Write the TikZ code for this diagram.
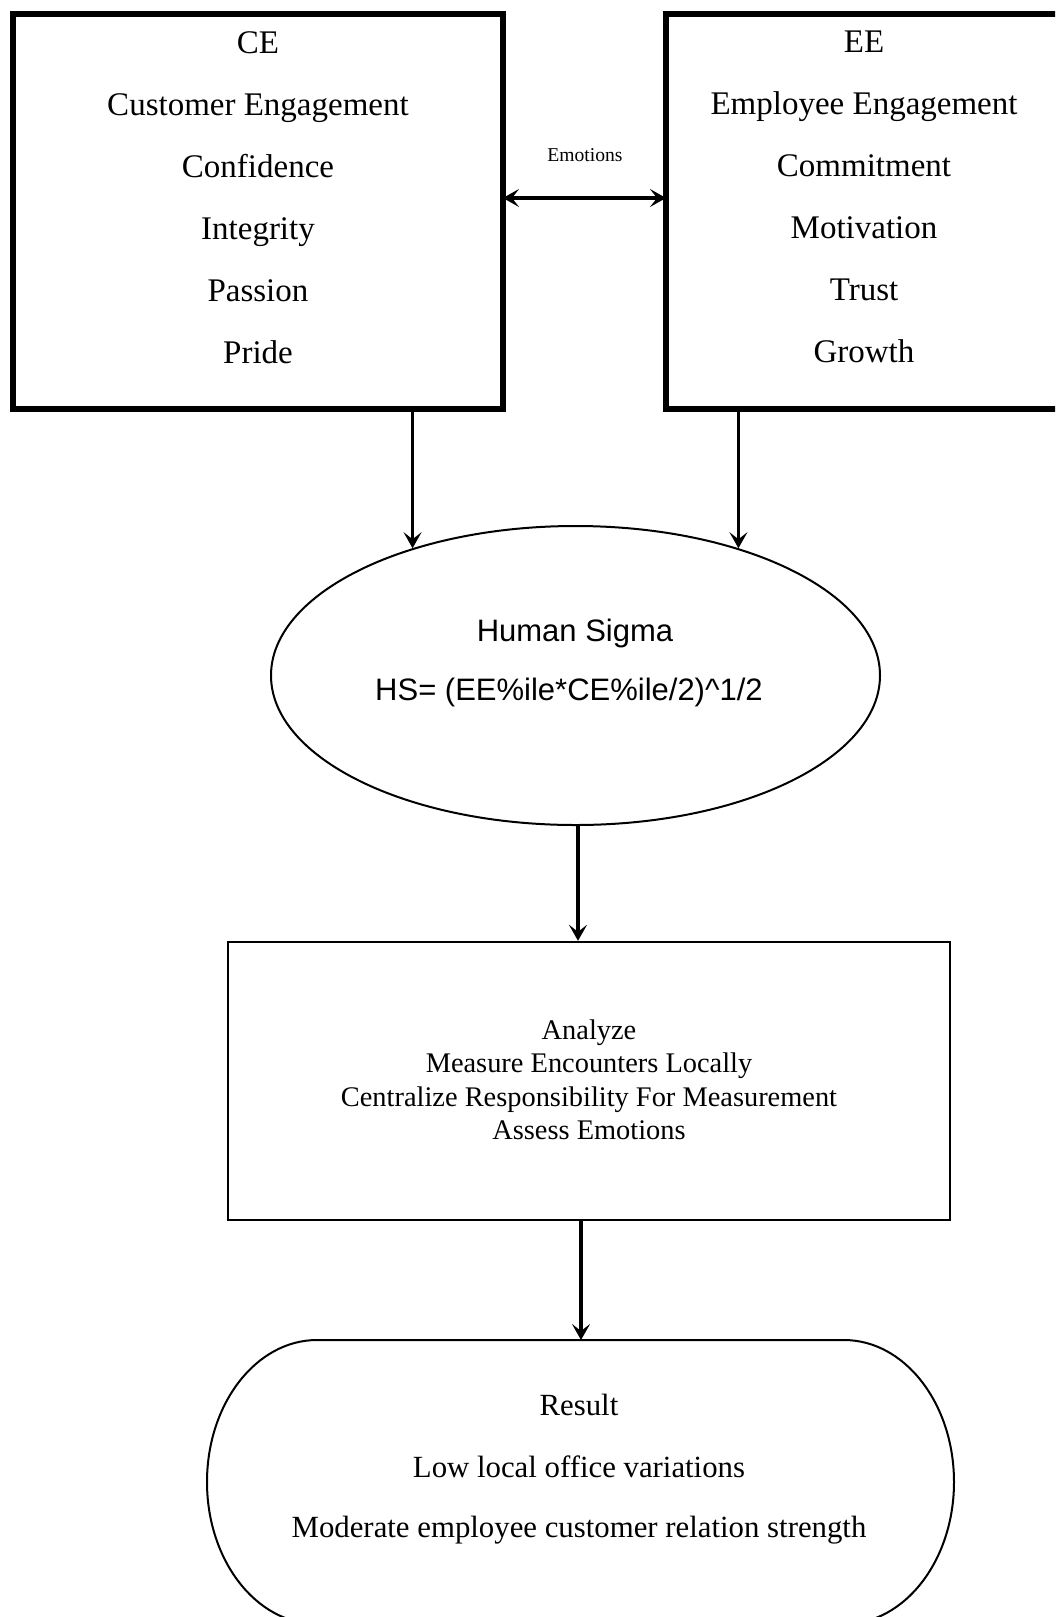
\documentclass[tikz,border=0pt]{standalone}
\usepackage{fontspec}
\setmainfont{Liberation Serif}
\newfontfamily\arialfont{Liberation Sans}
\usetikzlibrary{arrows.meta,shapes.geometric,calc}
\begin{document}
\begin{tikzpicture}[x=0.5pt,y=-0.5pt,
  bigbox/.style={draw, line width=3pt, rectangle, inner sep=0pt, outer sep=0pt, minimum height=197.5pt},
  boxtxt/.style={anchor=base, inner sep=0pt, font=\fontsize{16.5pt}{20pt}\selectfont},
  hstxt/.style={anchor=base, inner sep=0pt, font=\arialfont\fontsize{15.5pt}{18pt}\selectfont},
  antxt/.style={anchor=base, inner sep=0pt, font=\fontsize{14.2pt}{17pt}\selectfont},
  restxt/.style={anchor=base, inner sep=0pt, font=\fontsize{15.4pt}{18pt}\selectfont},
  arr/.style={-{Stealth[length=8pt,width=9pt,inset=3.5pt]}, line width=1.6pt},
  dblarr/.style={{Stealth[length=8pt,width=9pt,inset=3.5pt]}-{Stealth[length=8pt,width=9pt,inset=3.5pt]}, line width=1.8pt}]
\useasboundingbox (0,0) rectangle (1055,1617);
\clip (0,0) rectangle (1055,1617);

% top boxes
\node[bigbox, minimum width=245pt] (ce) at (258,211) {};
\node[bigbox, minimum width=198.5pt] (ee) at (864.5,211) {};
\foreach \t [count=\i] in {CE,Customer Engagement,Confidence,Integrity,Passion,Pride}
  \node[boxtxt] (cet\i) at (258,{53+62*(\i-1)}) {\t};
\foreach \t [count=\i] in {EE,Employee Engagement,Commitment,Motivation,Trust,Growth}
  \node[boxtxt] (eet\i) at (864,{52+62*(\i-1)}) {\t};

% emotions link
\coordinate (emo) at (585,198);
\node[anchor=base, inner sep=0pt, font=\fontsize{9.8pt}{12pt}\selectfont] (emol) at (585,161) {Emotions};
\draw[dblarr] (ce.east |- emo) -- (ee.west |- emo);

% ellipse
\node[draw, ellipse, line width=1pt, inner sep=0pt, minimum width=304.5pt, minimum height=149.5pt] (hs) at (575.5,675.5) {};
\node[hstxt] (hs1) at (575,641) {Human Sigma};
\node[hstxt] (hs2) at (569,700) {HS= (EE\%ile*CE\%ile/2)\^{}1/2};

\draw[arr] (hs.142.3 |- ce.south) -- (hs.142.3);
\draw[arr] (hs.38.2 |- ee.south) -- (hs.38.2);

% analyze box
\node[draw, rectangle, line width=1.2pt, inner sep=0pt, minimum width=361pt, minimum height=139pt] (an) at (589,1081) {};
\foreach \t [count=\i] in {Analyze,Measure Encounters Locally,Centralize Responsibility For Measurement,Assess Emotions}
  \node[antxt] (ant\i) at (589,{1039+33.5*(\i-1)}) {\t};
\coordinate (anin) at (578,941);
\draw[arr] (hs.south -| anin) -- (anin |- an.north);

% result terminator
\coordinate (restop) at (581,1340);
\draw[line width=1pt] (317,1340) -- (844,1340)
  arc[start angle=90, end angle=-90, x radius=55pt, y radius=71pt]
  -- (317,1624)
  arc[start angle=270, end angle=90, x radius=55pt, y radius=71pt] -- cycle;
\node[restxt] (res1) at (579,1415) {Result};
\node[restxt] (res2) at (579,1477) {Low local office variations};
\node[restxt] (res3) at (579,1537) {Moderate employee customer relation strength};
\draw[arr] (restop |- an.south) -- (restop);
\end{tikzpicture}
\end{document}
